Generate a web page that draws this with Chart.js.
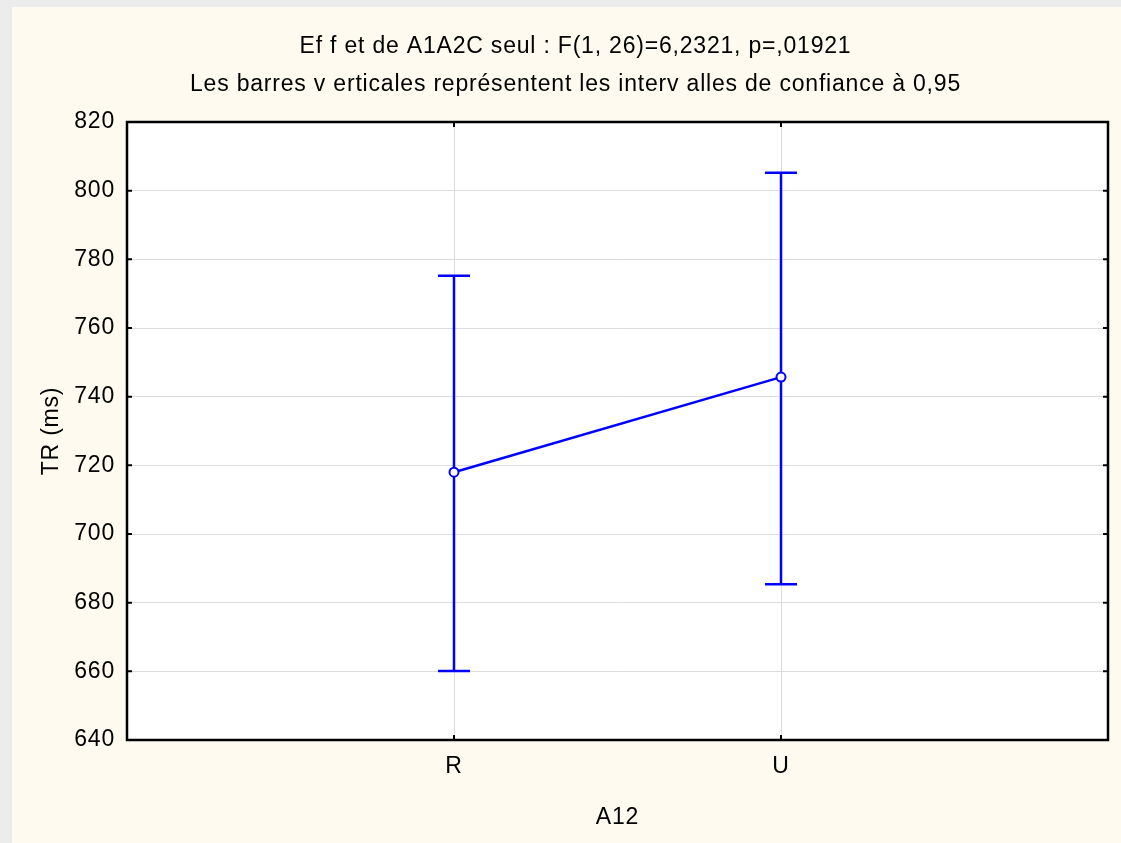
<!DOCTYPE html>
<html>
<head>
<meta charset="utf-8">
<title>TR (ms) par A12</title>
<script src="https://cdn.jsdelivr.net/npm/chart.js@4/dist/chart.umd.min.js"></script>
<style>
  html, body { margin: 0; padding: 0; background: #ececec; }
  #panel { position: absolute; left: 12px; top: 7px; width: 1109px; height: 836px; background: #fefaf0; }
</style>
</head>
<body>
<div id="panel"><canvas id="chart" width="1109" height="836"></canvas></div>
<script>
// Categories of A12 and the mean TR with its 95% confidence interval
const categories = ['R', 'U'];
const means = [718, 745.7];
const ciUpper = [775.2, 805.2];
const ciLower = [660.1, 685.4];

// Y axis range and step
const yMin = 640;
const yMax = 820;
const yStep = 20;

const titleText = 'Ef f et de A1A2C seul : F(1, 26)=6,2321, p=,01921';
const subtitleText = 'Les barres v erticales représentent les interv alles de confiance à 0,95';

const blue = '#0000ff';

Chart.defaults.font.family = '"Liberation Sans", Arial, sans-serif';
Chart.defaults.font.size = 23;
Chart.defaults.color = '#000';

// white plot area, error bars drawn under the markers
const errorBars = {
    id: 'errorBars',
    beforeDraw(chart) {
        const a = chart.chartArea;
        const ctx = chart.ctx;
        ctx.letterSpacing = '0.8px';
        ctx.save();
        ctx.fillStyle = '#fff';
        ctx.fillRect(a.left, a.top, a.right - a.left, a.bottom - a.top);
        ctx.restore();
    },
    beforeDatasetsDraw(chart) {
        const ctx = chart.ctx;
        const xs = chart.scales.x, ys = chart.scales.y;
        ctx.save();
        ctx.strokeStyle = blue;
        ctx.lineWidth = 2.5;
        categories.forEach((c, i) => {
            const x = xs.getPixelForValue(i + 1);
            const top = ys.getPixelForValue(ciUpper[i]);
            const bot = ys.getPixelForValue(ciLower[i]);
            ctx.beginPath();
            ctx.moveTo(x, top); ctx.lineTo(x, bot);
            ctx.moveTo(x - 16, top); ctx.lineTo(x + 16, top);
            ctx.moveTo(x - 16, bot); ctx.lineTo(x + 16, bot);
            ctx.stroke();
        });
        ctx.restore();
    },
    afterDraw(chart) {
        // black frame with inward ticks
        const a = chart.chartArea;
        const ctx = chart.ctx;
        const xs = chart.scales.x, ys = chart.scales.y;
        ctx.save();
        ctx.strokeStyle = '#000';
        ctx.lineWidth = 2.5;
        ctx.strokeRect(a.left, a.top, a.right - a.left, a.bottom - a.top);
        ctx.lineWidth = 2;
        ctx.beginPath();
        ys.ticks.forEach(t => {
            const y = ys.getPixelForValue(t.value);
            ctx.moveTo(a.left, y); ctx.lineTo(a.left + 5, y);
            ctx.moveTo(a.right, y); ctx.lineTo(a.right - 5, y);
        });
        categories.forEach((c, i) => {
            const x = xs.getPixelForValue(i + 1);
            ctx.moveTo(x, a.bottom); ctx.lineTo(x, a.bottom - 5);
            ctx.moveTo(x, a.top); ctx.lineTo(x, a.top + 5);
        });
        ctx.stroke();
        ctx.restore();
    }
};

new Chart(document.getElementById('chart'), {
    type: 'line',
    data: {
        datasets: [{
            data: means.map((m, i) => ({ x: i + 1, y: m })),
            borderColor: blue,
            borderWidth: 2.5,
            pointRadius: 4.5,
            pointBorderWidth: 2,
            pointBackgroundColor: '#fff',
            pointBorderColor: blue,
            tension: 0
        }]
    },
    options: {
        responsive: false,
        animation: false,
        devicePixelRatio: 1,
        layout: { padding: { left: 30, right: 12, top: 0, bottom: 0 } },
        plugins: {
            legend: { display: false },
            tooltip: { enabled: false },
            title: {
                display: true,
                text: titleText,
                font: { size: 23, weight: 'normal' },
                padding: { top: 26, bottom: 10.4 }
            },
            subtitle: {
                display: true,
                text: subtitleText,
                font: { size: 23 },
                color: '#000',
                padding: { top: 0, bottom: 23.4 }
            }
        },
        scales: {
            x: {
                type: 'linear',
                min: 0,
                max: categories.length + 1,
                afterFit(scale) { scale.height = 103; },
                afterBuildTicks(scale) {
                    scale.ticks = [0, 1, 2, 3].map(v => ({ value: v }));
                },
                ticks: {
                    padding: 13,
                    callback: v => categories[v - 1] || ''
                },
                grid: {
                    drawTicks: false,
                    color: ctx => (ctx.tick && (ctx.tick.value === 0 || ctx.tick.value === categories.length + 1)) ? 'rgba(0,0,0,0)' : '#dcdcdc',
                    lineWidth: 1
                },
                border: { display: false },
                title: {
                    display: true,
                    text: 'A12',
                    font: { size: 23 },
                    padding: { top: 0, bottom: 12 }
                }
            },
            y: {
                min: yMin,
                max: yMax,
                afterFit(scale) { scale.width = 85; },
                ticks: { stepSize: yStep, padding: 12 },
                grid: { drawTicks: false, color: '#dcdcdc', lineWidth: 1 },
                border: { display: false },
                title: {
                    display: true,
                    text: 'TR (ms)',
                    font: { size: 23 },
                    padding: { top: -4, bottom: 0 }
                }
            }
        }
    },
    plugins: [errorBars]
});
</script>
</body>
</html>
